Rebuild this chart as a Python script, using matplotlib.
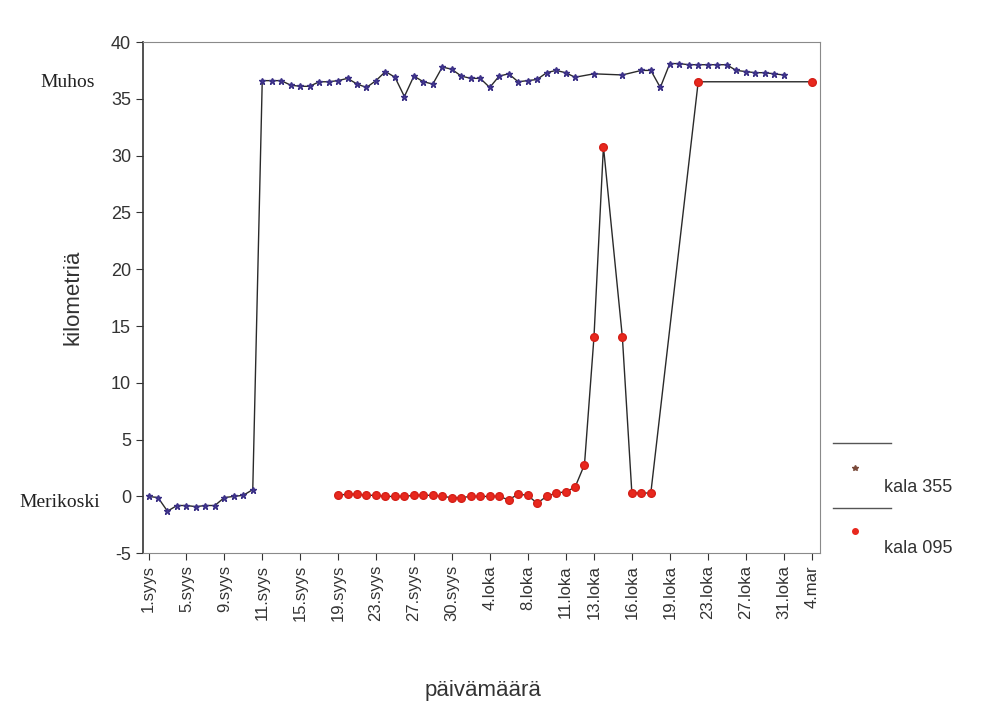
import matplotlib

matplotlib.use("Agg")
import matplotlib.pyplot as plt
from matplotlib.lines import Line2D
from matplotlib import transforms

plt.rcParams["font.family"] = ["Liberation Sans", "DejaVu Sans"]
plt.rcParams["axes.unicode_minus"] = False

# category axis: one slot per observation day
tick_pos = [0, 4, 8, 12, 16, 20, 24, 28, 32, 36, 40, 44, 47, 51, 55, 59, 63, 67, 70]
tick_labels = [
    "1.syys", "5.syys", "9.syys", "11.syys", "15.syys", "19.syys", "23.syys",
    "27.syys", "30.syys", "4.loka", "8.loka", "11.loka", "13.loka", "16.loka",
    "19.loka", "23.loka", "27.loka", "31.loka", "4.mar",
]

# kala 355
fish355_x = list(range(0, 46)) + [47, 50, 52, 53, 54, 55, 56, 57, 58, 59, 60, 61,
                                  62, 63, 64, 65, 66, 67]
fish355_y = [
    0.0, -0.1, -1.3, -0.8, -0.8, -0.9, -0.8, -0.8, -0.1, 0.0, 0.1, 0.6,
    36.6, 36.6, 36.6, 36.2, 36.1, 36.1, 36.5, 36.5, 36.6, 36.8, 36.3, 36.0,
    36.6, 37.4, 36.9, 35.2, 37.0, 36.5, 36.3, 37.8, 37.6, 37.0, 36.8, 36.8,
    36.0, 37.0, 37.2, 36.5, 36.6, 36.7, 37.3, 37.5, 37.3, 36.9,
    37.2, 37.1, 37.5, 37.5, 36.0, 38.1, 38.1, 38.0, 38.0, 38.0, 38.0, 38.0,
    37.5, 37.4, 37.3, 37.3, 37.2, 37.1,
]

# kala 095 (slot 49 has no observation)
fish095_x = list(range(20, 49)) + [50, 51, 52, 53, 58, 70]
fish095_y = [
    0.1, 0.2, 0.2, 0.1, 0.1, 0.0, 0.0, 0.0, 0.1, 0.1, 0.1, 0.0, -0.1, -0.1,
    0.0, 0.0, 0.0, 0.0, -0.3, 0.2, 0.1, -0.6, 0.0, 0.3, 0.4, 0.8,
    2.8, 14.0, 30.8, 14.0, 0.3, 0.3, 0.3, 36.5, 36.5,
]

fig = plt.figure(figsize=(9.85, 7.12), dpi=100)
ax = fig.add_axes([0.145, 0.223, 0.687, 0.718])

ax.plot(fish355_x, fish355_y, color="#2a2a2a", linewidth=1.0, marker="*",
        markersize=5, markerfacecolor="#4b3f9a", markeredgecolor="#3a2f85",
        zorder=3)
ax.plot(fish095_x, fish095_y, color="#2a2a2a", linewidth=1.0, marker="o",
        markersize=5.5, markerfacecolor="#e8281e", markeredgecolor="#d42018",
        zorder=4)

ax.set_xlim(-0.6, 70.8)
ax.set_ylim(-5, 40)
ax.set_yticks(range(-5, 41, 5))
ax.set_xticks(tick_pos)
ax.set_xticklabels(tick_labels, rotation=90, fontsize=12, color="#333333")
ax.tick_params(axis="y", labelsize=13, colors="#333333", direction="out", length=5)
ax.tick_params(axis="x", direction="out", length=5, colors="#333333")

for side in ["top", "right", "bottom"]:
    ax.spines[side].set_color("#8a8a8a")
ax.spines["left"].set_color("#333333")
ax.spines["left"].set_linewidth(1.2)

ax.set_ylabel("kilometriä", fontsize=16, color="#333333", labelpad=20)
fig.text(0.49, 0.03, "päivämäärä", fontsize=16, color="#333333",
         ha="center", va="center")

# place names at the two river ends
trans = transforms.blended_transform_factory(ax.transAxes, ax.transData)
ax.text(-0.152, 36.4, "Muhos", transform=trans, family=["Liberation Serif"],
        fontsize=14, va="center", ha="left", color="#222222")
ax.text(-0.182, -0.5, "Merikoski", transform=trans, family=["Liberation Serif"],
        fontsize=14, va="center", ha="left", color="#222222")

# legend drawn as in the original, outside the plot area
fig.add_artist(Line2D([0.846, 0.905], [0.378, 0.378], color="#555555", lw=1.0))
fig.add_artist(Line2D([0.868], [0.343], marker="*", markersize=4,
                      color="#7a4a3a", linestyle="none"))
fig.text(0.897, 0.316, "kala 355", fontsize=13, color="#333333", va="center")
fig.add_artist(Line2D([0.846, 0.905], [0.287, 0.287], color="#555555", lw=1.0))
fig.add_artist(Line2D([0.868], [0.254], marker="o", markersize=4,
                      color="#e8281e", linestyle="none"))
fig.text(0.897, 0.230, "kala 095", fontsize=13, color="#333333", va="center")

fig.savefig("out.png", dpi=100)
